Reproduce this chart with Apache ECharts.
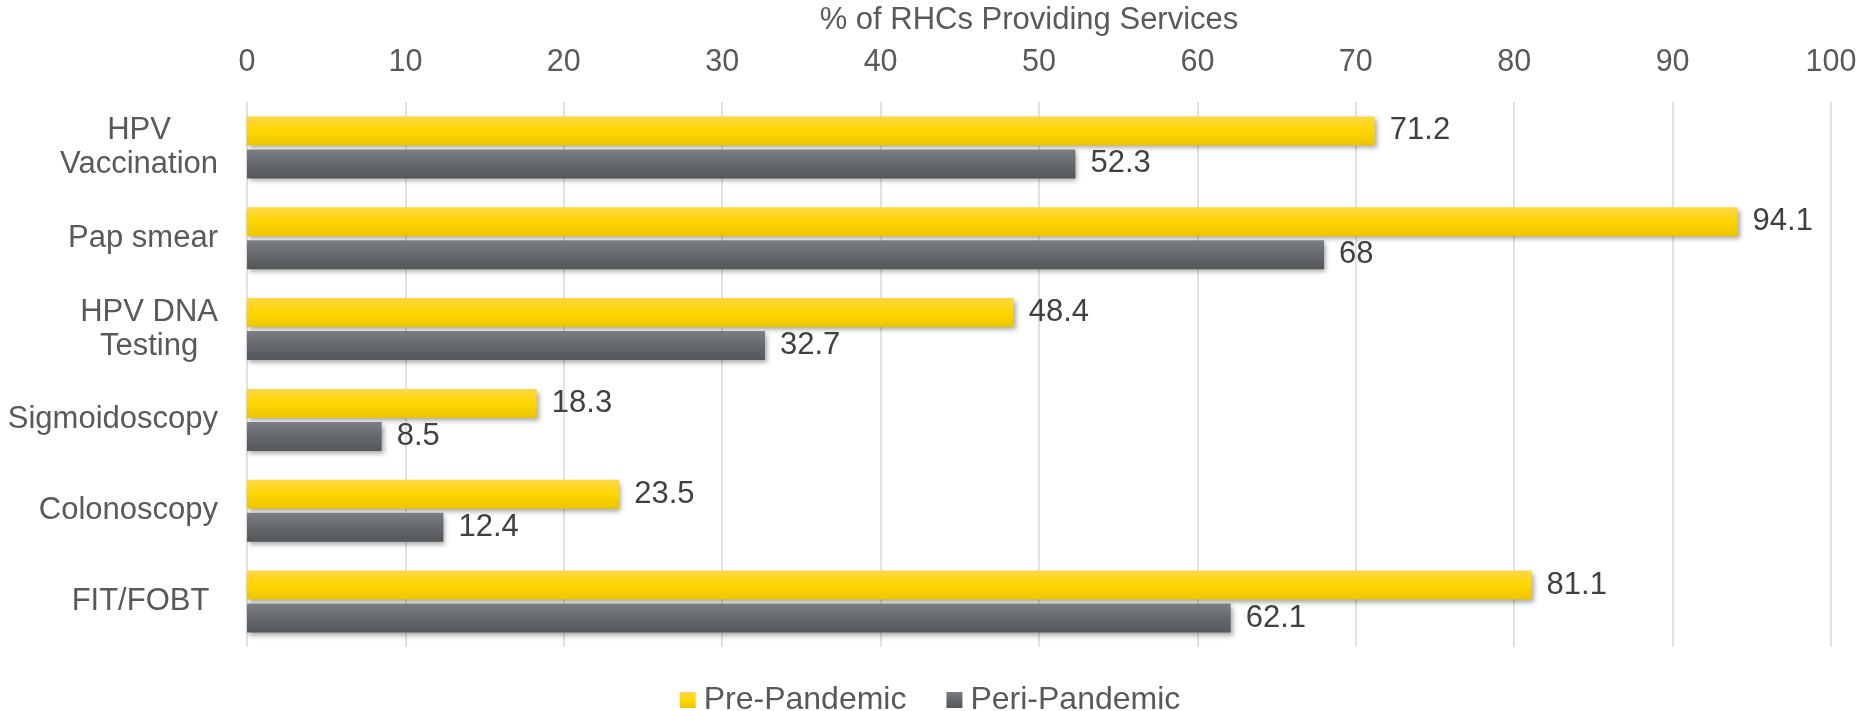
<!DOCTYPE html>
<html>
<head>
<meta charset="utf-8">
<title>RHC services</title>
<script src="https://cdn.jsdelivr.net/npm/echarts@6/dist/echarts.min.js"></script>
<style>
  html, body { margin: 0; padding: 0; background: #fff; }
  #main { width: 1860px; height: 711px; }
</style>
</head>
<body>
<div id="main"></div>
<script>
// data
var categories = ['HPV\nVaccination', 'Pap smear', 'HPV DNA\nTesting', 'Sigmoidoscopy', 'Colonoscopy', 'FIT/FOBT '];
var prePandemic = [71.2, 94.1, 48.4, 18.3, 23.5, 81.1];
var periPandemic = [52.3, 68, 32.7, 8.5, 12.4, 62.1];
var seriesNames = ['Pre-Pandemic', 'Peri-Pandemic'];
var axisMin = 0, axisMax = 100, axisStep = 10;

var font = '"Liberation Sans", Arial, sans-serif';

function grad(top, mid, bottom) {
    return new echarts.graphic.LinearGradient(0, 0, 0, 1, [
        { offset: 0, color: top },
        { offset: 0.5, color: mid },
        { offset: 1, color: bottom }
    ]);
}

function barSeries(name, data, color) {
    return {
        name: name,
        type: 'bar',
        data: data,
        barWidth: 29,
        barGap: '14%',
        itemStyle: {
            color: color,
            shadowColor: 'rgba(0,0,0,0.35)',
            shadowBlur: 5,
            shadowOffsetX: 2,
            shadowOffsetY: 3
        },
        label: {
            show: true,
            position: 'right',
            distance: 15,
            color: '#404040',
            fontSize: 31,
            fontFamily: font
        }
    };
}

var myChart = echarts.init(document.getElementById('main'));

var option = {
    backgroundColor: '#fff',
    animation: false,
    grid: { left: 247, right: 29, top: 98, bottom: 64 },
    legend: {
        data: seriesNames,
        left: 'center',
        top: 679,
        icon: 'rect',
        itemWidth: 16,
        itemHeight: 16,
        itemGap: 40,
        textStyle: { color: '#595959', fontSize: 32, fontFamily: font, padding: [0, 0, 0, 3] }
    },
    xAxis: {
        type: 'value',
        position: 'top',
        min: axisMin,
        max: axisMax,
        interval: axisStep,
        name: '% of RHCs Providing Services',
        nameLocation: 'middle',
        nameGap: 66,
        nameTextStyle: { color: '#595959', fontSize: 31, fontFamily: font, padding: [0, 20, 0, 0] },
        axisLine: { show: false },
        axisTick: { show: false },
        axisLabel: { color: '#595959', fontSize: 30.5, fontFamily: font, margin: 24 },
        splitLine: { show: true, lineStyle: { color: '#d9d9d9', width: 1.5 } }
    },
    yAxis: {
        type: 'category',
        inverse: true,
        data: categories,
        axisLine: { show: false },
        axisTick: { show: false },
        axisLabel: {
            margin: 29,
            formatter: function (v) {
                return v.split('\n').map(function (s) { return '{c|' + s + '}'; }).join('\n');
            },
            rich: {
                c: { color: '#595959', fontSize: 31, fontFamily: font, lineHeight: 34, align: 'center' }
            }
        }
    },
    series: [
        barSeries(seriesNames[0], prePandemic, grad('#FFD745', '#FFD600', '#EBC500')),
        barSeries(seriesNames[1], periPandemic, grad('#7C7F82', '#65686C', '#53575A'))
    ]
};

myChart.setOption(option);
</script>
</body>
</html>
